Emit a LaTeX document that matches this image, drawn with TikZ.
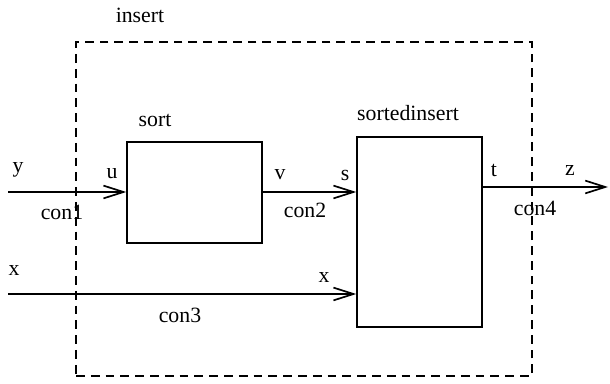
\documentclass[tikz,border=0pt]{standalone}
\usepackage{fontspec}
\setmainfont{Liberation Serif}
\usepackage{tikz}
\usetikzlibrary{arrows.meta,positioning,calc}

\begin{document}
\begin{tikzpicture}[
        block/.style={rectangle, draw=black, line width=1.1pt},
        frame/.style={rectangle, draw=black, line width=1.1pt, dash pattern=on 0.22cm off 0.15cm},
        lbl/.style={font=\fontsize{15.5}{18}\selectfont, inner sep=0pt},
        arrow/.style={-{Straight Barb[length=0.5cm, width=0.32cm, line width=1.2pt]}, line width=1.1pt}
    ]
    \useasboundingbox (0,0) rectangle (15.25,9.575);

    % Outer dashed frame
    \node[frame, minimum width=11.4cm, minimum height=8.35cm] (insert) at (7.6,4.35) {};
    \node[lbl] (insertlbl) at (3.5,9.2) {insert};

    % Inner blocks
    \node[block, minimum width=3.375cm, minimum height=2.525cm] (sort) at (4.8625,4.7625) {};
    \node[lbl] (sortlbl) at (3.875,6.575) {sort};

    \node[block, minimum width=3.125cm, minimum height=4.75cm] (sinsert) at (10.4875,3.775) {};
    \node[lbl] (sinsertlbl) at (10.2,6.75) {sortedinsert};

    % Free ends
    \coordinate (yin) at (0.2,4.775);
    \coordinate (xin) at (0.2,2.225);
    \coordinate (zout) at (15.2,4.9);

    % Connections
    \draw[arrow] (yin) -- (yin -| sort.west);
    \draw[arrow] (yin -| sort.east) -- (yin -| sinsert.west);
    \draw[arrow] (xin) -- (xin -| sinsert.west);
    \draw[arrow] (zout -| sinsert.east) -- (zout);

    % Port and connector labels
    \node[lbl] (ylbl) at (0.45,5.325) {y};
    \node[lbl] (ulbl) at (2.8,5.225) {u};
    \node[lbl] (con1) at (1.55,4.275) {con1};
    \node[lbl] (vlbl) at (7.0,5.2) {v};
    \node[lbl] (slbl) at (8.625,5.2) {s};
    \node[lbl] (con2) at (7.625,4.325) {con2};
    \node[lbl] (xlbl) at (0.35,2.825) {x};
    \node[lbl] (xlbl2) at (8.1,2.65) {x};
    \node[lbl] (con3) at (4.5,1.7) {con3};
    \node[lbl] (tlbl) at (12.35,5.325) {t};
    \node[lbl] (zlbl) at (14.25,5.325) {z};
    \node[lbl] (con4) at (13.375,4.375) {con4};

\end{tikzpicture}
\end{document}
